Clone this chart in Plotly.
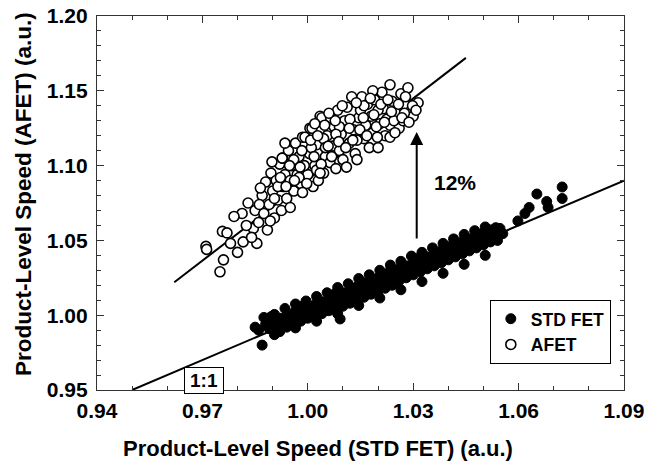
import plotly.graph_objects as go

# ---------------- data ----------------
std_x = [0.9850, 0.9860, 0.9870, 0.9880, 0.9890, 0.9900, 0.9910, 0.9920, 0.9920, 0.9930,
         0.9940, 0.9940, 0.9950, 0.9960, 0.9960, 0.9970, 0.9980, 0.9980, 0.9990, 1.0000,
         1.0000, 1.0010, 1.0020, 1.0020, 1.0030, 1.0040, 1.0040, 1.0050, 1.0060, 1.0060,
         1.0070, 1.0080, 1.0080, 1.0090, 1.0092, 1.0100, 1.0100, 1.0110, 1.0120, 1.0120,
         1.0130, 1.0140, 1.0140, 1.0150, 1.0160, 1.0160, 1.0170, 1.0180, 1.0180, 1.0190,
         1.0200, 1.0200, 1.0210, 1.0220, 1.0220, 1.0230, 1.0240, 1.0240, 1.0250, 1.0260,
         1.0260, 1.0270, 1.0280, 1.0280, 1.0290, 1.0300, 1.0300, 1.0310, 1.0320, 1.0320,
         1.0330, 1.0340, 1.0340, 1.0350, 1.0360, 1.0360, 1.0370, 1.0380, 1.0380, 1.0390,
         1.0400, 1.0400, 1.0410, 1.0420, 1.0420, 1.0430, 1.0440, 1.0440, 1.0450, 1.0460,
         1.0460, 1.0470, 1.0480, 1.0480, 1.0490, 1.0500, 1.0500, 1.0510, 1.0520, 1.0520,
         1.0530, 1.0540, 1.0547, 1.0598, 1.0618, 1.0630, 1.0652, 1.0680, 1.0684, 1.0724,
         1.0724, 0.9895, 0.9985, 1.0075, 1.0155, 1.0235, 1.0315, 1.0395, 1.0445, 1.0505,
         0.9875, 0.9905, 0.9935, 0.9965, 0.9995, 1.0025, 1.0055, 1.0085, 1.0115, 1.0145,
         1.0175, 1.0205, 1.0235, 1.0265, 1.0295, 1.0325, 1.0355, 1.0385, 1.0415, 1.0445,
         1.0475, 1.0505, 1.0535, 0.9905, 0.9965, 1.0025, 1.0085, 1.0145, 1.0205, 1.0265,
         1.0325, 1.0385, 1.0445, 1.0505, 0.9965, 1.0045, 1.0125, 1.0205, 1.0285, 1.0365,
         1.0445, 1.0525, 1.0540, 1.0555]
std_y = [0.9920, 0.9900, 0.9800, 0.9940, 0.9910, 0.9960, 0.9930, 0.9980, 0.9890, 0.9950,
         1.0000, 0.9920, 0.9970, 1.0010, 0.9940, 0.9990, 1.0030, 0.9960, 1.0010, 1.0050,
         0.9980, 1.0030, 1.0070, 0.9990, 1.0040, 1.0090, 1.0010, 1.0060, 1.0110, 1.0030,
         1.0080, 1.0130, 1.0040, 1.0100, 0.9975, 1.0150, 1.0060, 1.0120, 1.0170, 1.0080,
         1.0140, 1.0190, 1.0100, 1.0160, 1.0210, 1.0120, 1.0180, 1.0230, 1.0140, 1.0200,
         1.0250, 1.0160, 1.0220, 1.0270, 1.0180, 1.0240, 1.0290, 1.0200, 1.0260, 1.0310,
         1.0230, 1.0280, 1.0330, 1.0250, 1.0300, 1.0350, 1.0270, 1.0320, 1.0370, 1.0290,
         1.0340, 1.0390, 1.0310, 1.0360, 1.0410, 1.0330, 1.0380, 1.0430, 1.0350, 1.0400,
         1.0450, 1.0370, 1.0420, 1.0470, 1.0390, 1.0440, 1.0490, 1.0410, 1.0460, 1.0510,
         1.0430, 1.0480, 1.0530, 1.0450, 1.0500, 1.0550, 1.0470, 1.0520, 1.0570, 1.0490,
         1.0540, 1.0500, 1.0580, 1.0630, 1.0680, 1.0720, 1.0810, 1.0760, 1.0720, 1.0857,
         1.0780, 0.9990, 1.0060, 1.0140, 1.0220, 1.0300, 1.0380, 1.0460, 1.0500, 1.0530,
         0.9985, 1.0005, 1.0045, 1.0075, 1.0095, 1.0125, 1.0150, 1.0185, 1.0210, 1.0245,
         1.0270, 1.0300, 1.0335, 1.0360, 1.0395, 1.0420, 1.0450, 1.0480, 1.0510, 1.0540,
         1.0565, 1.0590, 1.0585, 0.9870, 0.9915, 0.9960, 1.0010, 1.0065, 1.0115, 1.0170,
         1.0225, 1.0280, 1.0340, 1.0400, 1.0030, 1.0080, 1.0160, 1.0215, 1.0305, 1.0385,
         1.0465, 1.0530, 1.0560, 1.0545]

afet_x = [0.9710, 0.9712, 0.9750, 0.9760, 0.9757, 0.9770, 0.9800, 0.9816, 0.9855, 0.9813,
          0.9790, 0.9830, 0.9845, 0.9850, 0.9860, 0.9870, 0.9875, 0.9880, 0.9885, 0.9890,
          0.9895, 0.9900, 0.9905, 0.9910, 0.9915, 0.9920, 0.9925, 0.9928, 0.9930, 0.9935,
          0.9940, 0.9945, 0.9950, 0.9955, 0.9960, 0.9965, 0.9970, 0.9975, 0.9980, 0.9985,
          0.9992, 1.0000, 1.0005, 1.0006, 1.0012, 1.0015, 1.0020, 1.0025, 1.0035, 1.0040,
          1.0045, 1.0050, 1.0055, 1.0063, 1.0070, 1.0075, 1.0080, 1.0085, 1.0090, 1.0095,
          1.0100, 1.0105, 1.0112, 1.0118, 1.0125, 1.0130, 1.0135, 1.0140, 1.0145, 1.0150,
          1.0154, 1.0160, 1.0165, 1.0170, 1.0175, 1.0180, 1.0185, 1.0190, 1.0200, 1.0205,
          1.0211, 1.0215, 1.0220, 1.0225, 1.0234, 1.0234, 1.0234, 1.0240, 1.0250, 1.0260,
          1.0265, 1.0271, 1.0280, 1.0285, 1.0291, 1.0300, 1.0314, 0.9950, 0.9990, 1.0030,
          1.0065, 1.0110, 1.0185, 0.9865, 0.9935, 1.0010, 1.0045, 1.0090, 1.0120, 1.0160,
          1.0195, 1.0245, 1.0275, 0.9960, 1.0025, 1.0080, 1.0140, 1.0200, 0.9915, 0.9975,
          1.0050, 0.9898, 0.9927,
          0.9780, 0.9825, 0.9840, 0.9862, 0.9893, 0.9905, 0.9922, 0.9938, 0.9948, 0.9962,
          0.9978, 0.9983, 0.9997, 1.0008, 1.0018, 1.0028, 1.0038, 1.0048, 1.0058, 1.0068,
          1.0078, 1.0088, 1.0098, 1.0108, 1.0118, 1.0128, 1.0138, 1.0148, 1.0158, 1.0168,
          1.0178, 1.0188, 1.0198, 1.0208, 1.0218, 1.0228, 1.0238, 1.0248, 1.0258, 1.0268,
          1.0278, 1.0288, 1.0298, 1.0308, 1.0020, 1.0060, 0.9985, 1.0035]
afet_y = [1.0460, 1.0440, 1.0290, 1.0370, 1.0560, 1.0550, 1.0420, 1.0490, 1.0480, 1.0680,
          1.0660, 1.0750, 1.0580, 1.0700, 1.0620, 1.0800, 1.0680, 1.0890, 1.0570, 1.0740,
          1.0950, 1.0830, 1.0650, 1.0900, 1.0770, 1.1010, 1.0700, 1.1050, 1.0860, 1.0940,
          1.0780, 1.1100, 1.0900, 1.1000, 1.0830, 1.1150, 1.0940, 1.1060, 1.0880, 1.1190,
          1.1190, 1.0940, 1.1080, 1.1250, 1.1250, 1.0860, 1.1000, 1.1140, 1.1330, 1.1320,
          1.0950, 1.1060, 1.1200, 1.1020, 1.1130, 1.1260, 1.0980, 1.1370, 1.1100, 1.1210,
          1.1040, 1.1300, 1.1390, 1.1150, 1.1460, 1.1240, 1.1080, 1.1040, 1.1320, 1.1370,
          1.1460, 1.1180, 1.1270, 1.1410, 1.1120, 1.1330, 1.1220, 1.1440, 1.1120, 1.1280,
          1.1490, 1.1380, 1.1200, 1.1310, 1.1540, 1.1270, 1.1190, 1.1430, 1.1350, 1.1250,
          1.1480, 1.1300, 1.1400, 1.1520, 1.1360, 1.1330, 1.1420, 1.0720, 1.1000, 1.0900,
          1.1320, 1.0990, 1.1500, 1.0850, 1.1150, 1.1120, 1.1180, 1.1260, 1.1310, 1.1400,
          1.1260, 1.1300, 1.1350, 1.1040, 1.0970, 1.1210, 1.1170, 1.1370, 1.0860, 1.0920,
          1.1120, 1.1025, 1.1050,
          1.0480, 1.0600, 1.0520, 1.0740, 1.0630, 1.0780, 1.0920, 1.0860, 1.1000, 1.0900,
          1.0990, 1.1100, 1.0880, 1.1170, 1.1060, 1.1200, 1.1010, 1.1270, 1.1130, 1.1060,
          1.1300, 1.1160, 1.1400, 1.1120, 1.1250, 1.1170, 1.1420, 1.1240, 1.1320, 1.1200,
          1.1450, 1.1340, 1.1190, 1.1410, 1.1290, 1.1440, 1.1360, 1.1220, 1.1410, 1.1320,
          1.1460, 1.1290, 1.1400, 1.1370, 1.1280, 1.1350, 1.0820, 1.0950]

# reference lines
one_x = [0.95, 1.09]
one_y = [0.95, 1.09]
fit_x = [0.962, 1.045]
fit_y = [1.0220, 1.1720]

# arrow (tail -> head) and labels
arrow_x = [1.031, 1.031]
arrow_y = [1.0503, 1.1225]
pct_label = "12%"
pct_pos = [1.0419, 1.0884]
ratio_label = "1:1"
ratio_pos = [0.9705, 0.9565]

x_ticks = [0.94, 0.97, 1.00, 1.03, 1.06, 1.09]
y_ticks = [0.95, 1.00, 1.05, 1.10, 1.15, 1.20]
x_title = "Product-Level Speed (STD FET) (a.u.)"
y_title = "Product-Level Speed (AFET) (a.u.)"

FONT = "Liberation Sans, Arial, sans-serif"

fig = go.Figure()
fig.add_trace(go.Scatter(x=one_x, y=one_y, mode="lines",
                         line=dict(color="black", width=2), showlegend=False, hoverinfo="skip"))
fig.add_trace(go.Scatter(x=fit_x, y=fit_y, mode="lines",
                         line=dict(color="black", width=2), showlegend=False, hoverinfo="skip"))
fig.add_trace(go.Scatter(x=std_x, y=std_y, mode="markers", name="STD FET",
                         marker=dict(symbol="circle", size=10, color="black",
                                     line=dict(color="black", width=1))))
fig.add_trace(go.Scatter(x=afet_x, y=afet_y, mode="markers", name="AFET",
                         marker=dict(symbol="circle", size=10, color="white",
                                     line=dict(color="black", width=1.6))))

fig.add_annotation(x=arrow_x[1], y=arrow_y[1], ax=arrow_x[0], ay=arrow_y[0],
                   xref="x", yref="y", axref="x", ayref="y", text="",
                   showarrow=True, arrowhead=2, arrowsize=1.3, arrowwidth=2, arrowcolor="black")
fig.add_annotation(x=pct_pos[0], y=pct_pos[1], xref="x", yref="y", text=pct_label,
                   showarrow=False, font=dict(family=FONT, size=21, color="black", weight="bold"))
fig.add_annotation(x=ratio_pos[0], y=ratio_pos[1], xref="x", yref="y", text=ratio_label,
                   showarrow=False, bordercolor="black", borderwidth=1, borderpad=1,
                   bgcolor="white", width=36, height=23,
                   font=dict(family=FONT, size=19, color="black", weight="bold"))

# axis titles (placed as paper annotations to match the original offset)
fig.add_annotation(x=0.4194, y=-0.196, xref="paper", yref="paper", text=x_title,
                   showarrow=False, xanchor="center", yanchor="bottom",
                   font=dict(family=FONT, size=22, color="black", weight="bold"))
fig.add_annotation(x=-0.1404, y=0.524, xref="paper", yref="paper", text=y_title,
                   showarrow=False, xanchor="center", yanchor="middle", textangle=-90,
                   font=dict(family=FONT, size=22.5, color="black", weight="bold"))

axis_common = dict(
    showline=True, linecolor="#333", linewidth=1.2, mirror="ticks",
    ticks="inside", ticklen=7, tickwidth=1, tickcolor="#333",
    showgrid=False, zeroline=False, automargin=False,
    tickfont=dict(family=FONT, size=21, color="black", weight="bold"),
    minor=dict(ticks="inside", ticklen=4, tickwidth=1, tickcolor="#333", showgrid=False),
)

fig.update_xaxes(range=[0.94, 1.09], tickvals=x_ticks, ticktext=[f"{v:.2f}" for v in x_ticks],
                 minor_dtick=0.01, minor_tick0=0.94, ticklabelstandoff=2,
                 **axis_common)
fig.update_yaxes(range=[0.95, 1.20], tickvals=y_ticks, ticktext=[f"{v:.2f}" for v in y_ticks],
                 minor_dtick=0.01, minor_tick0=0.95, ticklabelstandoff=4,
                 **axis_common)

fig.update_layout(
    width=645, height=465,
    margin=dict(l=97, r=21, t=16, b=75),
    plot_bgcolor="white", paper_bgcolor="white",
    legend=dict(x=0.975, y=0.07, xanchor="right", yanchor="bottom",
                bordercolor="black", borderwidth=1, bgcolor="white",
                font=dict(family=FONT, size=17.5, color="black", weight="bold"),
                itemsizing="trace", tracegroupgap=0, entrywidth=95),
)

fig.write_html("out.html")
